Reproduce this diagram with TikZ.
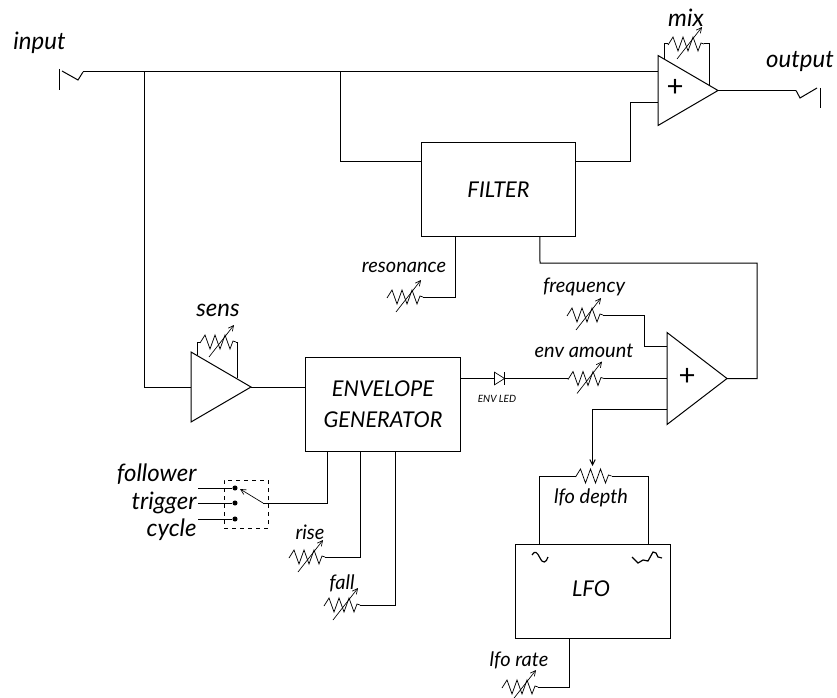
\documentclass[tikz,border=0pt]{standalone}
\usepackage{fontspec}
\setmainfont{Lato}
\usetikzlibrary{shapes.geometric, arrows.meta, positioning, calc}

\newcommand{\zigpath}{(-18,1) -- (-13,-7) -- (-8,7) -- (-3,-7) -- (2,7) -- (7,-7) -- (12,7) -- (15,-1) -- (18,0)}

\begin{document}
\begin{tikzpicture}[
        x=0.75pt, y=-0.75pt,
        line width=0.75pt,
        block/.style={draw, minimum width=116pt, minimum height=70.5pt, inner sep=0pt, outer sep=0pt, align=center, font=\fontsize{16.3}{23}\selectfont\itshape},
        amp/.style={draw, isosceles triangle, isosceles triangle stretches, inner sep=0pt, outer sep=0pt, anchor=lower side, minimum height=45pt, minimum width=52.5pt},
        lab/.style={inner sep=0pt, font=\fontsize{15}{16}\selectfont\itshape},
        biglab/.style={inner sep=0pt, font=\fontsize{18}{18}\selectfont\itshape},
        plus/.style={inner sep=0pt, font=\fontsize{22}{22}\selectfont},
        dot/.style={circle, fill, inner sep=0pt, minimum size=3.8pt},
        adj/.style={-{Straight Barb[length=4pt,width=4pt]}, line width=0.5pt},
        pot/.pic={
            \draw[line width=0.55pt] \zigpath;
            \coordinate (-w) at (-18,0);
            \coordinate (-e) at (18,0);
        },
        rheo/.pic={
            \draw[line width=0.55pt] \zigpath;
            \draw[adj] (-9,15) -- (16,-17);
            \coordinate (-w) at (-18,0);
            \coordinate (-e) at (18,0);
        }
    ]
        \useasboundingbox (0,0) rectangle (837,698);

        % blocks
        \node[block] (filter) at (498.5,190) {FILTER};
        \node[block] (env) at (383,404) {ENVELOPE\\GENERATOR};
        \node[block] (lfo) at (593,591) {};
        \node[inner sep=0pt, font=\fontsize{16.3}{18}\selectfont\itshape] (lfotxt) at (591,589) {LFO};

        % amplifiers
        \node[amp] (mix) at (658,90.5) {};
        \node[amp] (sens) at (191,387) {};
        \node[amp, minimum width=69pt] (sum) at (667,378.5) {};
        \node[plus] (mixplus) at (675,88) {+};
        \node[plus] (sumplus) at (687,377) {+};

        % variable resistors
        \pic (rmix) at (686,44) {rheo};
        \pic (rsens) at (218,342) {rheo};
        \pic (rres) at (405,297) {rheo};
        \pic (rfreq) at (585,315) {rheo};
        \pic (ramt) at (586,378.5) {rheo};
        \pic (rrise) at (307,557) {rheo};
        \pic (rfall) at (342,605) {rheo};
        \pic (rrate) at (520,687) {rheo};
        \pic (rdepth) at (593.5,476) {pot};

        % labels
        \node[biglab] (linput) at (39.5,43) {input};
        \node[biglab] (loutput) at (800,62) {output};
        \node[biglab] (lmix) at (686,18) {mix};
        \node[biglab] (lsens) at (218,310) {sens};
        \node[lab] (lres) at (404,267) {resonance};
        \node[lab] (lfreq) at (584,287) {frequency};
        \node[lab] (lamt) at (584,351) {env amount};
        \node[lab] (lrise) at (310,532) {rise};
        \node[lab] (lfall) at (342,583) {fall};
        \node[lab] (ldepth) at (591,498) {lfo depth};
        \node[lab] (lrate) at (519,660) {lfo rate};
        \node[lab, font=\fontsize{7.5}{9}\selectfont\itshape] (lled) at (497,399) {ENV LED};
        \node[biglab, anchor=east] (lfollow) at (197,474) {follower};
        \node[biglab, anchor=east] (ltrig) at (197,503) {trigger};
        \node[biglab, anchor=east] (lcycle) at (197,530) {cycle};

        % mode switch
        \node[draw, dashed, line width=0.5pt, minimum width=33pt, minimum height=36pt, inner sep=0pt] (swbox) at (246,504) {};
        \node[dot] (d1) at (235,488) {};
        \node[dot] (d2) at (235,503) {};
        \node[dot] (d3) at (235,519) {};
        \coordinate (wiper) at (263,503);
        \draw (198,488) -- (d1);
        \draw (198,503) -- (d2);
        \draw (198,519) -- (d3);
        \draw[adj] (wiper) -- (240,489);
        \draw (wiper) -| ([xshift=-42pt]env.south);

        % input and output jacks
        \coordinate (injack) at (83,72);
        \coordinate (outjack) at (796,90.5);
        \draw (59,69) -- (59,90);
        \draw (62,71) -- (78,80) -- (injack);
        \draw (820,88) -- (820,108);
        \draw (outjack) -- (800,98) -- (817,88);

        % signal path
        \coordinate (mixb) at ([yshift=-9pt]mix.lower side);
        \draw (injack) -- (injack -| mix.lower side);
        \draw (144.5,72) |- (sens.lower side);
        \draw (340,72) |- ([yshift=21.5pt]filter.west);
        \draw ([yshift=21.5pt]filter.east) -| ([xshift=-21pt]mixb) -- (mixb);
        \draw (mix.apex) -- (outjack);
        \draw (sens.apex) -- (env.west |- sens.apex);
        \draw (rmix-w) -- (664,44) -- (664,59);
        \draw (rmix-e) -- (709,44) -- (709,85);
        \draw (rsens-w) -- (197,342) -- (197,355);
        \draw (rsens-e) -- (237,342) -- (237,378);
        \draw ([xshift=-32pt]filter.south) |- (rres-e);
        \draw ([xshift=31pt]filter.south) -- (540,263) -- (757,263) |- (sum.apex);
        \draw (rfreq-e) -- (644,315) -- (644,346) -- (667,346);
        \draw (rrise-e) -| ([xshift=-17pt]env.south);
        \draw (rfall-e) -| ([xshift=9.5pt]env.south);
        \draw ([xshift=-18pt]lfo.south) |- (rrate-e);
        \draw (rdepth-w) -| ([xshift=-40pt]lfo.north);
        \draw (rdepth-e) -| ([xshift=41.5pt]lfo.north);
        \draw[-{Straight Barb[length=4pt,width=4pt]}] (667,409) -| (592.5,466);

        % env led
        \node[draw, isosceles triangle, isosceles triangle stretches, inner sep=0pt, outer sep=0pt, line width=0.5pt, minimum height=7.5pt, minimum width=9.5pt] (led) at (498,378.5) {};
        \draw (504,372) -- (504,385);
        \draw (env.east |- led) -- (led);
        \draw (led.apex) -- (ramt-w);
        \draw (ramt-e) -- (sum.lower side);

        % waveforms
        \draw[line width=0.9pt] (532,555) .. controls (535,550) and (537,552) .. (540,558) .. controls (543,564) and (546,563) .. (548,557);
        \draw[line width=0.9pt] (632,557) -- (638,563) -- (643,560) -- (648,561) -- (653,552) -- (656,553) -- (658,557) -- (662,558);
    \end{tikzpicture}
\end{document}
